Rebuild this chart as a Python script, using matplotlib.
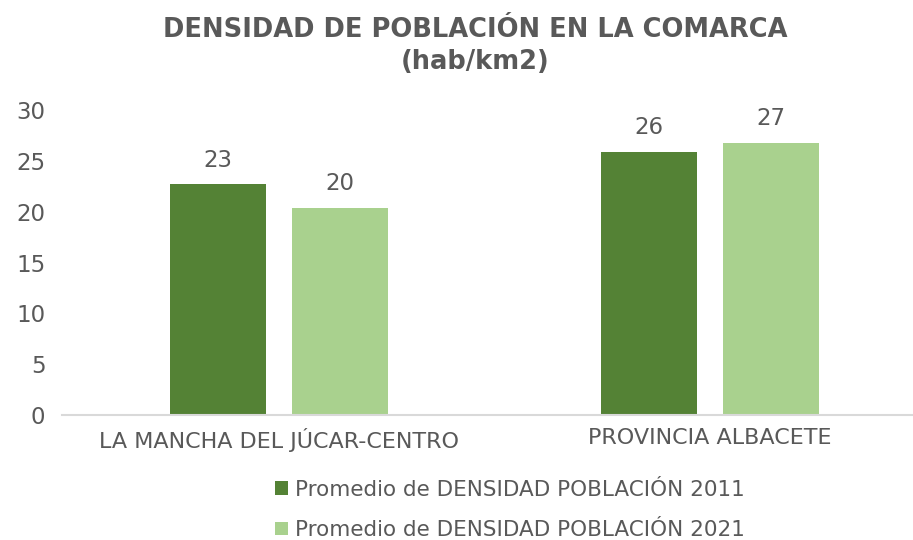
import matplotlib
matplotlib.use('Agg')
import matplotlib.pyplot as plt
import numpy as np

plt.rcParams['font.family'] = ['DejaVu Sans']

# Data
categories = ['LA MANCHA DEL JÚCAR-CENTRO', 'PROVINCIA ALBACETE']
series_names = ['Promedio de DENSIDAD POBLACIÓN 2011',
                'Promedio de DENSIDAD POBLACIÓN 2021']
density_2011 = [22.7, 25.9]
density_2021 = [20.4, 26.8]
y_ticks = [0, 5, 10, 15, 20, 25, 30]

dark_green = '#548235'
light_green = '#A9D18E'
text_gray = '#595959'

W, H = 913, 540
fig = plt.figure(figsize=(W / 100, H / 100), dpi=100)
ax = fig.add_axes([62 / W, 125 / H, (W - 62) / W, 305 / H])

x = np.arange(len(categories))
bw = 0.223
off = 0.1415
b1 = ax.bar(x - off, density_2011, bw, color=dark_green, label=series_names[0])
b2 = ax.bar(x + off, density_2021, bw, color=light_green, label=series_names[1])

for bars, vals in ((b1, density_2011), (b2, density_2021)):
    for rect, v in zip(bars, vals):
        ax.annotate(f'{v:.0f}', (rect.get_x() + rect.get_width() / 2, v),
                    xytext=(0, 9), textcoords='offset points',
                    ha='center', va='bottom', fontsize=16.5, color=text_gray)

ax.set_xlim(-0.5035, 1.471)
ax.set_ylim(0, 30)
ax.set_yticks(y_ticks)
ax.set_xticks(x)
ax.set_xticklabels(categories)
ax.tick_params(axis='both', length=0, colors=text_gray)
ax.tick_params(axis='y', pad=12, labelsize=16.5)
ax.tick_params(axis='x', pad=9, labelsize=16)
for s in ['top', 'right', 'left']:
    ax.spines[s].set_visible(False)
ax.spines['bottom'].set_color('#D9D9D9')
ax.spines['bottom'].set_linewidth(1.5)

fig.text(475 / W, 1 - 30 / H, 'DENSIDAD DE POBLACIÓN EN LA COMARCA',
         ha='center', va='center', fontsize=18.5, fontweight='bold', color=text_gray)
fig.text(475 / W, 1 - 62 / H, '(hab/km2)',
         ha='center', va='center', fontsize=18.5, fontweight='bold', color=text_gray)

leg = fig.legend(loc='center', bbox_to_anchor=(510 / W, 1 - 510 / H), ncol=1,
                 frameon=False, fontsize=15.5, handlelength=0.6, handleheight=0.6,
                 handletextpad=0.35, labelspacing=0.95)
for t in leg.get_texts():
    t.set_color(text_gray)

fig.savefig('out.png', dpi=100)
